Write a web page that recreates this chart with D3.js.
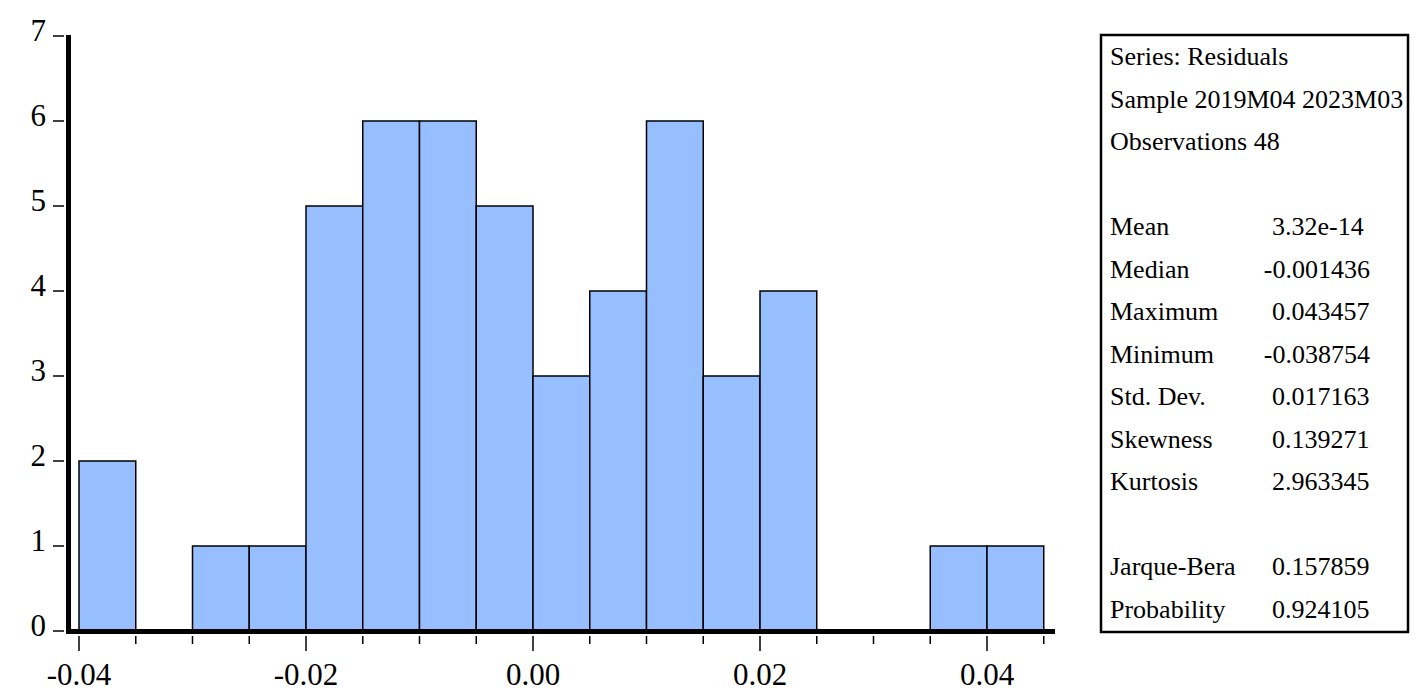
<!DOCTYPE html>
<html><head><meta charset="utf-8">
<script src="https://cdn.jsdelivr.net/npm/d3@7"></script>
<style>body{margin:0;background:#fff}svg{display:block}</style>
</head><body>
<script>
// Histogram data: bin edges (start) of width 0.005 and counts
const binStarts = [-0.040,-0.035,-0.030,-0.025,-0.020,-0.015,-0.010,-0.005,0.000,0.005,0.010,0.015,0.020,0.025,0.030,0.035,0.040];
const binCounts = [2,0,1,1,5,6,6,5,3,4,6,3,4,0,0,1,1];
const binWidth = 0.005;
const xTickLabels = ["-0.04","-0.02","0.00","0.02","0.04"];
const xTickValues = [-0.04,-0.02,0,0.02,0.04];
const yTickValues = [0,1,2,3,4,5,6,7];
const headerLines = ["Series: Residuals","Sample 2019M04 2023M03","Observations 48"];
const statLabels = ["Mean","Median","Maximum","Minimum","Std. Dev.","Skewness","Kurtosis"];
const statValues = ["3.32e-14","-0.001436","0.043457","-0.038754","0.017163","0.139271","2.963345"];
const testLabels = ["Jarque-Bera","Probability"];
const testValues = ["0.157859","0.924105"];

const W = 1427, H = 700;
const svg = d3.select("body").append("svg").attr("width", W).attr("height", H);
const font = "'Liberation Serif', 'Times New Roman', serif";

const x = d3.scaleLinear().domain([-0.04, 0.04]).range([79, 987]);
const y = d3.scaleLinear().domain([0, 7]).range([631, 36]);

// bars
svg.append("g").selectAll("rect")
  .data(binStarts.map((s, i) => ({s, c: binCounts[i]})).filter(d => d.c > 0))
  .join("rect")
  .attr("x", d => x(d.s))
  .attr("width", d => x(d.s + binWidth) - x(d.s))
  .attr("y", d => y(d.c))
  .attr("height", d => y(0) - y(d.c))
  .attr("fill", "#97BEFF")
  .attr("stroke", "#000")
  .attr("stroke-width", 1.5);

// minor x ticks at each bin edge
const edges = binStarts.concat([binStarts[binStarts.length - 1] + binWidth]);
svg.append("g").selectAll("line.minor")
  .data(edges).join("line")
  .attr("x1", d => x(d)).attr("x2", d => x(d))
  .attr("y1", 636).attr("y2", d => xTickValues.some(v => Math.abs(v - d) < 1e-9) ? 651 : 644)
  .attr("stroke", "#000").attr("stroke-width", 1.5);

// x tick labels
svg.append("g").selectAll("text")
  .data(xTickValues).join("text")
  .attr("x", d => x(d)).attr("y", 685)
  .attr("text-anchor", "middle")
  .attr("font-family", font).attr("font-size", 31)
  .text((d, i) => xTickLabels[i]);

// y ticks
svg.append("g").selectAll("line")
  .data(yTickValues).join("line")
  .attr("x1", 53).attr("x2", 64)
  .attr("y1", d => y(d)).attr("y2", d => y(d))
  .attr("stroke", "#000").attr("stroke-width", 1.5);
svg.append("g").selectAll("text")
  .data(yTickValues).join("text")
  .attr("x", 46).attr("y", d => y(d) + 5)
  .attr("text-anchor", "end")
  .attr("font-family", font).attr("font-size", 31)
  .text(d => d);

// axes lines (thick)
svg.append("line").attr("x1", 68.5).attr("x2", 68.5).attr("y1", 35).attr("y2", 634)
  .attr("stroke", "#000").attr("stroke-width", 5);
svg.append("line").attr("x1", 66).attr("x2", 1055).attr("y1", 631.5).attr("y2", 631.5)
  .attr("stroke", "#000").attr("stroke-width", 5);

// legend box
svg.append("rect").attr("x", 1101).attr("y", 35).attr("width", 307).attr("height", 597)
  .attr("fill", "#fff").attr("stroke", "#000").attr("stroke-width", 2.5);

const lg = svg.append("g").attr("font-family", font).attr("font-size", 26);
const step = 42.5, base0 = 65;
const rows = [];
headerLines.forEach((t, i) => rows.push({label: t, value: null, row: i}));
statLabels.forEach((t, i) => rows.push({label: t, value: statValues[i], row: 4 + i}));
testLabels.forEach((t, i) => rows.push({label: t, value: testValues[i], row: 12 + i}));

lg.selectAll("text.lab").data(rows).join("text")
  .attr("x", 1110).attr("y", d => base0 + d.row * step)
  .text(d => d.label);
lg.selectAll("text.val").data(rows.filter(d => d.value)).join("text")
  .attr("x", d => d.value.startsWith("-") ? 1370 : 1272)
  .attr("text-anchor", d => d.value.startsWith("-") ? "end" : "start")
  .attr("y", d => base0 + d.row * step)
  .text(d => d.value);
</script>
</body></html>
